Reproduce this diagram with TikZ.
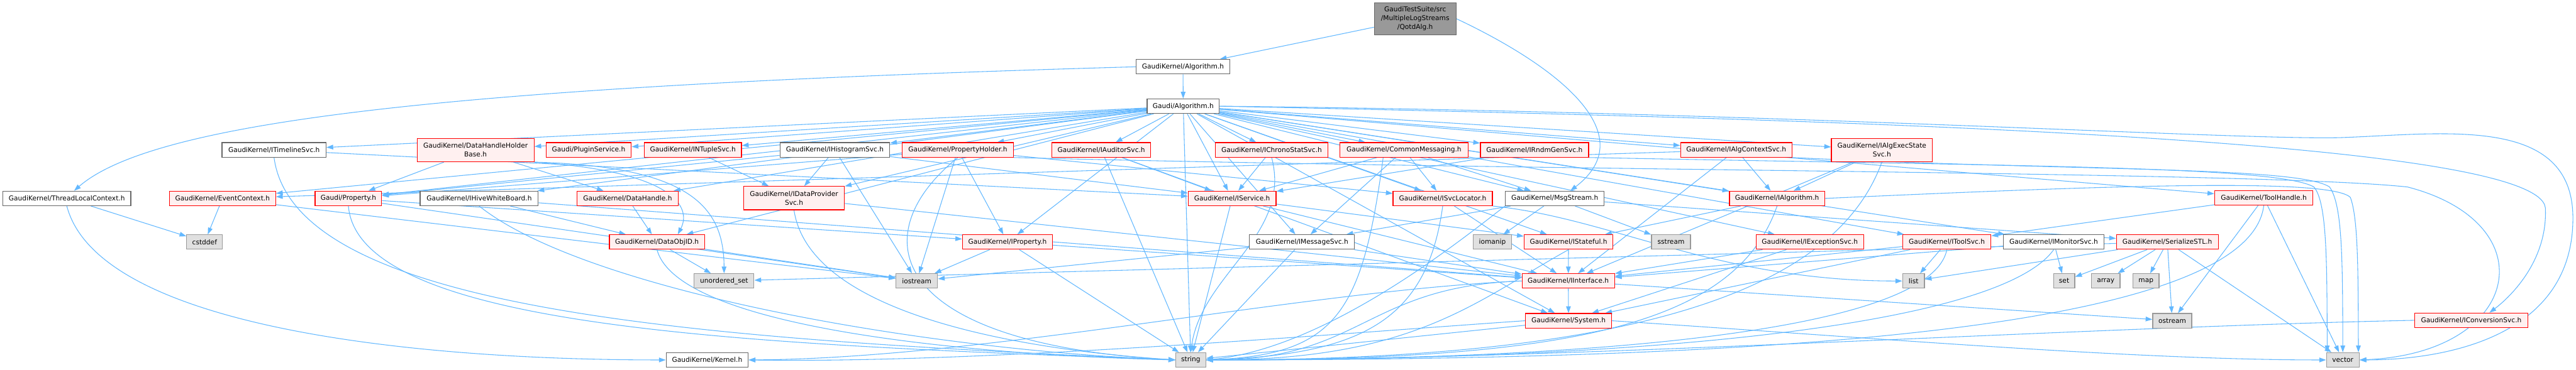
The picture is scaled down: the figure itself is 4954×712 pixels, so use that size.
\documentclass[tikz,border=0pt]{standalone}
\usepackage{fontspec}
\setmainfont{DejaVu Sans}
\usetikzlibrary{arrows.meta,backgrounds}
\definecolor{edgecol}{HTML}{63B8FF}
\definecolor{nred}{HTML}{FF0000}
\definecolor{nredfill}{HTML}{FFF0F0}
\definecolor{ngray}{HTML}{666666}
\definecolor{nsysline}{HTML}{999999}
\definecolor{nsysfill}{HTML}{E0E0E0}
\definecolor{ntopfill}{HTML}{999999}
\newcommand{\nfont}{\fontsize{12.85}{16.8}\selectfont}
\begin{document}
\begin{tikzpicture}[x=1pt,y=-1pt,
  box/.style={draw, line width=1.4pt, minimum height=28pt, inner sep=0pt, font=\nfont, align=center, text=black},
  redbox/.style={box, draw=nred, fill=nredfill},
  whitebox/.style={box, draw=ngray, fill=white},
  sysbox/.style={box, draw=nsysline, fill=nsysfill},
  topbox/.style={box, draw=ngray, fill=ntopfill},
  dep/.style={draw=edgecol, line width=1.3pt, -{Triangle[length=13pt,width=9pt]}},
]
\useasboundingbox (0,0) rectangle (4954,712);
% row 0-2
\node[topbox, minimum width=157pt, minimum height=62pt] (Q) at (2721.5,36) {GaudiTestSuite/src\\/MultipleLogStreams\\/QotdAlg.h};
\node[whitebox, minimum width=180pt] (KAlg) at (2275,128.6) {GaudiKernel/Algorithm.h};
\node[whitebox, minimum width=139pt] (GAlg) at (2275.5,204.5) {Gaudi/Algorithm.h};
% row 3
\node[whitebox, minimum width=200pt] (ITL) at (527,288.6) {GaudiKernel/ITimelineSvc.h};
\node[redbox, minimum width=225pt, minimum height=45pt] (DHHB) at (914.5,289) {GaudiKernel/DataHandleHolder\\Base.h};
\node[redbox, minimum width=164pt] (PS) at (1132,288.6) {Gaudi/PluginService.h};
\node[redbox, minimum width=187pt] (NT) at (1332.5,288.6) {GaudiKernel/INTupleSvc.h};
\node[whitebox, minimum width=211pt] (IHS) at (1605.5,288.6) {GaudiKernel/IHistogramSvc.h};
\node[redbox, minimum width=214pt] (PH) at (1842,288.6) {GaudiKernel/PropertyHolder.h};
\node[redbox, minimum width=190pt] (IAud) at (2118,288.6) {GaudiKernel/IAuditorSvc.h};
\node[redbox, minimum width=217pt] (ICS) at (2445.5,288.6) {GaudiKernel/IChronoStatSvc.h};
\node[redbox, minimum width=246pt] (CM) at (2700,288.6) {GaudiKernel/CommonMessaging.h};
\node[redbox, minimum width=208pt] (IRG) at (2951,288.6) {GaudiKernel/IRndmGenSvc.h};
\node[redbox, minimum width=214pt] (IAC) at (3339,288.6) {GaudiKernel/IAlgContextSvc.h};
\node[redbox, minimum width=194pt, minimum height=45pt] (IAES) at (3619,289) {GaudiKernel/IAlgExecState\\Svc.h};
% row 4
\node[whitebox, minimum width=246pt] (TLC) at (128.5,382) {GaudiKernel/ThreadLocalContext.h};
\node[redbox, minimum width=204pt] (EC) at (428,382) {GaudiKernel/EventContext.h};
\node[redbox, minimum width=128pt] (GProp) at (670,382) {Gaudi/Property.h};
\node[whitebox, minimum width=227pt] (HWB) at (921.5,382) {GaudiKernel/IHiveWhiteBoard.h};
\node[redbox, minimum width=194pt] (DH) at (1207,382) {GaudiKernel/DataHandle.h};
\node[redbox, minimum width=194pt, minimum height=45pt] (IDP) at (1527,381.5) {GaudiKernel/IDataProvider\\Svc.h};
\node[redbox, minimum width=169pt] (ISvc) at (2369.5,382) {GaudiKernel/IService.h};
\node[redbox, minimum width=191pt] (ISL) at (2774.5,382) {GaudiKernel/ISvcLocator.h};
\node[whitebox, minimum width=190pt] (MS) at (2990,382) {GaudiKernel/MsgStream.h};
\node[redbox, minimum width=183pt] (IAlg) at (3417.5,382) {GaudiKernel/IAlgorithm.h};
\node[redbox, minimum width=189pt] (TH) at (4353.5,381) {GaudiKernel/ToolHandle.h};
% row 5
\node[sysbox, minimum width=69pt] (cstddef) at (393.5,466) {cstddef};
\node[redbox, minimum width=183pt] (DOID) at (1263.5,466) {GaudiKernel/DataObjID.h};
\node[redbox, minimum width=173pt] (IProp) at (1937.5,466) {GaudiKernel/IProperty.h};
\node[whitebox, minimum width=202pt] (IMS) at (2504,466) {GaudiKernel/IMessageSvc.h};
\node[sysbox, minimum width=74pt] (iomanip) at (2870,466) {iomanip};
\node[redbox, minimum width=171pt] (IState) at (3016.5,466) {GaudiKernel/IStateful.h};
\node[sysbox, minimum width=75pt] (sstream) at (3213.5,466) {sstream};
\node[redbox, minimum width=207pt] (IExc) at (3480.5,466) {GaudiKernel/IExceptionSvc.h};
\node[redbox, minimum width=170pt] (ITS) at (3744,466) {GaudiKernel/IToolSvc.h};
\node[whitebox, minimum width=193pt] (IMon) at (3949.5,466) {GaudiKernel/IMonitorSvc.h};
\node[redbox, minimum width=196pt] (SSTL) at (4168,466) {GaudiKernel/SerializeSTL.h};
% row 6
\node[sysbox, minimum width=115pt] (uset) at (1392.5,541) {unordered\_set};
\node[sysbox, minimum width=80pt] (iostream) at (1763,541) {iostream};
\node[redbox, minimum width=178pt] (II) at (3016,541) {GaudiKernel/IInterface.h};
\node[sysbox, minimum width=42pt] (list) at (3680,541) {list};
\node[sysbox, minimum width=41pt] (set) at (3969.5,541) {set};
\node[sysbox, minimum width=55pt] (array) at (4049.5,541) {array};
\node[sysbox, minimum width=50pt] (map) at (4127,541) {map};
% row 7
\node[redbox, minimum width=165pt] (Sys) at (3016.5,617.5) {GaudiKernel/System.h};
\node[sysbox, minimum width=75pt] (ostream) at (4177.5,617.5) {ostream};
\node[redbox, minimum width=217pt] (ICnv) at (4752.5,616.7) {GaudiKernel/IConversionSvc.h};
% row 8
\node[whitebox, minimum width=158pt] (Kern) at (1360,693) {GaudiKernel/Kernel.h};
\node[sysbox, minimum width=58pt] (string) at (2290,693) {string};
\node[sysbox, minimum width=63pt] (vector) at (4505.5,693) {vector};

\begin{scope}[on background layer]
% top
\draw[dep] (Q) -- (KAlg);
\draw[dep] (Q.east) .. controls (3000,130) and (3160,260) .. ([xshift=30pt]MS.north);
\draw[dep] (KAlg) -- (GAlg);
\draw[dep] (KAlg.west) .. controls (900,165) and (300,230) .. ([xshift=14pt]TLC.north);
% Gaudi/Algorithm.h
\foreach \t in {ITL,EC,GProp,DHHB,PS,NT,HWB,DH,IHS,PH,IAud,IDP,IProp,ICS,CM,ISvc,ISL,IMS,IRG,IAC,MS,IAlg,IState,IExc,Sys,IAES,ITS,IMon,TH,DOID,string}
  \draw[dep] (GAlg) -- (\t);
\draw[dep] (GAlg.east) .. controls (3600,230) and (4880,270) .. (4895,400) .. controls (4900,500) and (4830,570) .. ([xshift=35pt]ICnv.north);
\draw[dep] (GAlg.east) .. controls (3400,215) and (4300,270) .. (4500,265) .. controls (4700,258) and (4948,220) .. (4948,420) .. controls (4948,650) and (4700,693) .. (vector.east);
% left part
\draw[dep] (TLC) -- (cstddef);
\draw[dep] (TLC.south) .. controls +(60,230) and +(-500,0) .. (Kern.west);
\draw[dep] (EC) -- (cstddef);
\draw[dep] (EC) -- (iostream);
\draw[dep] (ITL) -- (ISvc);
\draw[dep] (ITL.south) .. controls +(40,300) and +(-900,-40) .. (string.west);
\draw[dep] (GProp) -- (IProp);
\draw[dep] (GProp) -- (iostream);
\draw[dep] (GProp.south) .. controls +(20,240) and +(-800,-30) .. (string.west);
\draw[dep] (DHHB) -- (GProp);
\draw[dep] (DHHB) -- (DH);
\draw[dep] (DHHB.south east) .. controls (1300,330) and (1330,400) .. ([xshift=40pt]DOID.north);
\draw[dep] (DHHB.south east) .. controls (1330,320) and (1392,400) .. (uset.north);
\draw[dep] (NT) -- (IDP);
\draw[dep] (HWB) -- (DOID);
\draw[dep] (HWB) -- (II);
\draw[dep] (HWB.south) .. controls +(200,160) and +(-500,-20) .. (string.west);
\draw[dep] (DH) -- (DOID);
\draw[dep] (DOID) -- (uset);
\draw[dep] (DOID) -- (iostream);
\draw[dep] (DOID.south) .. controls +(40,150) and +(-400,-10) .. (string.west);
\draw[dep] (IHS) -- (IDP);
\draw[dep] (IHS) -- (iostream);
\draw[dep] (IHS) -- (GProp);
\draw[dep] (IHS) -- (ISvc);
\draw[dep] (PH) -- (GProp);
\draw[dep] (PH) -- (IProp);
\draw[dep] (PH) -- (iostream);
\draw[dep] (PH) -- (ISL);
\draw[dep] (PH.south) .. controls (1660,450) and (1700,660) .. (string.west);
\draw[dep] (PH.south east) .. controls (3000,330) and (4350,330) .. (4630,360) .. controls (4900,430) and (4850,680) .. (vector.east);
\draw[dep] (IAud) -- (ISvc);
\draw[dep] (IAud) -- (Sys);
\draw[dep] (IAud) -- (string);
\draw[dep] (IDP) -- (II);
\draw[dep] (IDP.south) .. controls +(30,200) and +(-300,-20) .. (string.west);
\draw[dep] (IProp) -- (II);
\draw[dep] (IProp) -- (iostream);
\draw[dep] (IProp) -- (string);
% middle
\draw[dep] (ICS) -- (ISvc);
\draw[dep] (ICS.south) .. controls +(40,150) and +(20,-150) .. (string.north);
\draw[dep] (CM) -- (ISvc);
\draw[dep] (CM) -- (ISL);
\draw[dep] (CM) -- (IMS);
\draw[dep] (CM) -- (MS);
\draw[dep] ([xshift=-40pt]CM.south) .. controls +(-40,300) and +(250,-10) .. (string.east);
\draw[dep] (ISvc) -- (II);
\draw[dep] (ISvc) -- (IState);
\draw[dep] (ISvc) -- (string);
\draw[dep] (ISL) -- (II);
\draw[dep] (ISL.south) .. controls +(-30,220) and +(300,-10) .. (string.east);
\draw[dep] (ISL.south east) .. controls (3100,420) and (3300,541) .. (list.west);
\draw[dep] (IMS) -- (II);
\draw[dep] (IMS) -- (iostream);
\draw[dep] (IMS) -- (string);
\draw[dep] (IRG) -- (ISvc);
\draw[dep] (IRG.south east) .. controls (3900,320) and (4380,320) .. (4450,360) .. controls (4475,390) and (4475,500) .. ([xshift=-30pt]vector.north);
\draw[dep] (IAC) -- (IAlg);
\draw[dep] (IAC) -- (II);
\draw[dep] (IAC) -- (EC);
\draw[dep] (IAC.south east) .. controls (4000,330) and (4420,320) .. (4480,360) .. controls (4505,395) and (4505,500) .. (vector.north);
\draw[dep] (IAES) -- (IAlg);
\draw[dep] (IAES) -- (II);
\draw[dep] (IAES.south) .. controls +(-80,220) and +(900,0) .. (string.east);
\draw[dep] (MS) -- (IMS);
\draw[dep] (MS) -- (SSTL);
\draw[dep] (MS) -- (iomanip);
\draw[dep] (MS) -- (sstream);
\draw[dep] (MS.south west) .. controls (2800,470) and (2550,670) .. (string.east);
\draw[dep] (IAlg) -- (IState);
\draw[dep] (IAlg.south) .. controls +(-80,230) and +(700,0) .. (string.east);
\draw[dep] (IAlg.east) .. controls (4000,360) and (4480,340) .. (4520,380) .. controls (4535,420) and (4535,520) .. ([xshift=30pt]vector.north);
\draw[dep] (IState) -- (II);
\draw[dep] (IState.south) .. controls +(-180,100) and +(400,0) .. (string.east);
\draw[dep] (IExc) -- (II);
\draw[dep] (IExc) -- (Sys);
\draw[dep] (II) -- (Sys);
\draw[dep] (II) -- (ostream);
\draw[dep] (II.west) .. controls +(-300,10) and +(300,0) .. (string.east);
\draw[dep] (II.west) .. controls (2500,560) and (1900,690) .. (Kern.east);
\draw[dep] (Sys) -- (string);
\draw[dep] (Sys.west) .. controls (2600,640) and (1900,700) .. (Kern.east);
\draw[dep] (Sys.east) .. controls (3600,650) and (4100,693) .. (vector.west);
% right part
\draw[dep] (ITS) -- (list);
\draw[dep] (ITS) -- (II);
\draw[dep] (ITS) -- (Sys);
\draw[dep] (ITS.south) .. controls +(-30,150) and +(800,0) .. (string.east);
\draw[dep] (IMon) -- (set);
\draw[dep] (IMon) -- (II);
\draw[dep] (IMon.south) .. controls +(-100,140) and +(900,0) .. (string.east);
\foreach \t in {set,array,map,ostream,list,vector,uset}
  \draw[dep] (SSTL) -- (\t);
\draw[dep] (TH) -- (ITS);
\draw[dep] (TH) -- (ostream);
\draw[dep] (TH) -- (vector);
\draw[dep] (TH.south) .. controls +(-30,250) and +(1000,0) .. (string.east);
\draw[dep] (ICnv.west) .. controls (4000,630) and (3000,693) .. (string.east);
\end{scope}
\end{tikzpicture}
\end{document}
